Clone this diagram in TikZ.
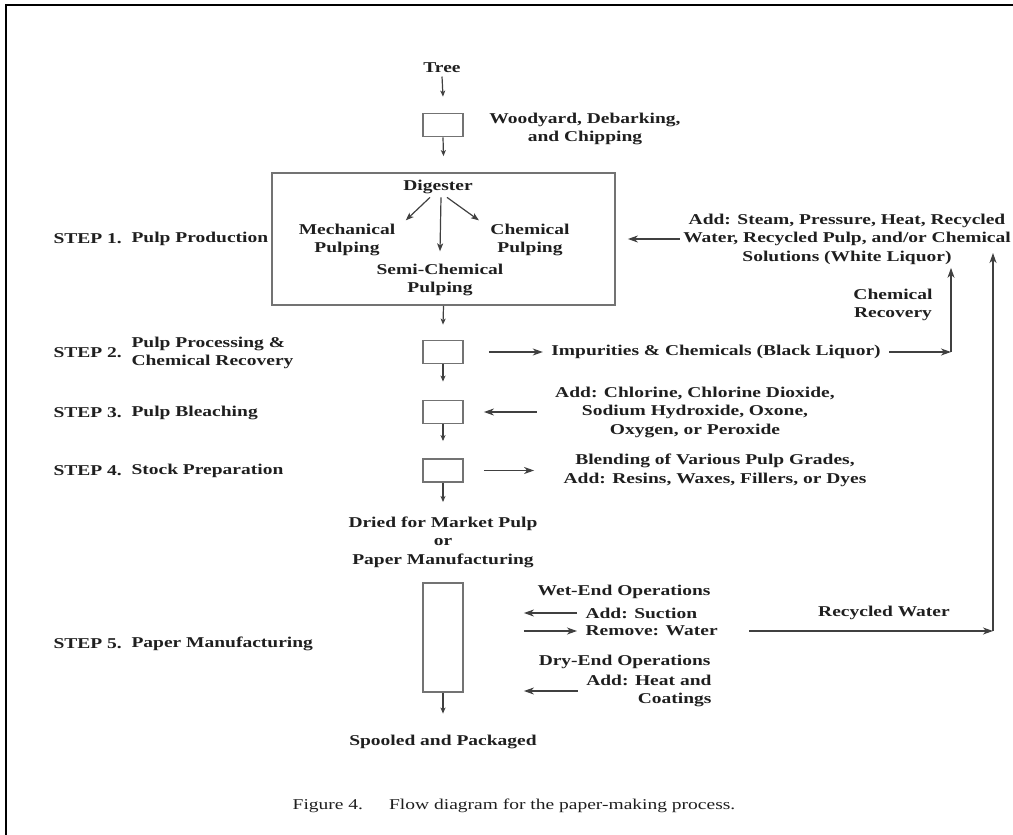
\documentclass[tikz,border=0pt]{standalone}
\usepackage{fontspec}
\setmainfont{Liberation Serif}[FakeStretch=1.3]
\usetikzlibrary{arrows.meta,positioning}

\tikzstyle{block} = [draw=black!55, line width=1.8pt, rectangle, minimum width=40pt, minimum height=23pt, inner sep=0pt]
\tikzstyle{label-text} = [font=\bfseries\fontsize{15}{18.5}\selectfont, text=black!88, align=center]
\tikzstyle{step-text} = [label-text, anchor=west, align=left]
\tikzstyle{flow} = [draw=black!75, line width=1.2pt, -{Stealth[length=10pt,width=7pt,inset=3pt]}]
\tikzstyle{drop} = [flow, -{Stealth[length=6pt,width=5pt,inset=1.5pt]}]
\tikzstyle{branch} = [flow, -{Stealth[length=8pt,width=6pt,inset=2pt]}]

\begin{document}
\begin{tikzpicture}[x=1pt,y=-1pt]

	\useasboundingbox (0,0) rectangle (1013,835);
	\draw [line width=2.8pt] (6,835) -- (6,5) -- (1013,5);

	\node [label-text] (Tree) at (442,68) {Tree};
	\node [block] (Woodyard) at (443,125) {};
	\node [label-text] (WoodyardText) at (585,129) {Woodyard, Debarking,\\and Chipping};

	\node [block, minimum width=343pt, minimum height=132pt] (Pulping) at (443.5,239) {};
	\node [label-text] (Digester) at (438,187) {Digester};
	\node [label-text] (Mechanical) at (347,240) {Mechanical\\Pulping};
	\node [label-text] (Chemical) at (530,240) {Chemical\\Pulping};
	\node [label-text] (SemiChemical) at (440,280) {Semi-Chemical\\Pulping};
	\node [label-text] (WhiteLiquor) at (847,239) {Add: Steam, Pressure, Heat, Recycled\\Water, Recycled Pulp, and/or Chemical\\Solutions (White Liquor)};
	\node [label-text] (ChemRecovery) at (893,305) {Chemical\\Recovery};

	\node [block] (Processing) at (443,352) {};
	\node [label-text] (BlackLiquor) at (716,352) {Impurities \& Chemicals (Black Liquor)};
	\coordinate (Recovery) at (951,352);

	\node [block] (Bleaching) at (443,412) {};
	\node [label-text] (BleachAgents) at (695,412) {Add: Chlorine, Chlorine Dioxide,\\Sodium Hydroxide, Oxone,\\Oxygen, or Peroxide};

	\node [block] (Stock) at (443,470.5) {};
	\node [label-text] (Blending) at (715,470.5) {Blending of Various Pulp Grades,\\Add: Resins, Waxes, Fillers, or Dyes};

	\node [label-text] (Dried) at (443,542) {Dried for Market Pulp\\or\\Paper Manufacturing};

	\node [block, minimum height=109pt] (Machine) at (443,637.5) {};
	\node [label-text, anchor=east] (WetEnd) at (714,592) {Wet-End Operations};
	\node [label-text, anchor=west] (Suction) at (582,613) {Add: Suction};
	\node [label-text, anchor=west] (Water) at (582,631) {Remove: Water};
	\node [label-text] (RecycledWater) at (884,613) {Recycled Water};
	\coordinate (Return) at (993,631);
	\coordinate (ReturnTop) at (993,253);
	\node [label-text, anchor=east] (DryEnd) at (714,662) {Dry-End Operations};
	\node [label-text, anchor=east, align=right] (Heat) at (715,691) {Add: Heat and\\Coatings};

	\node [label-text] (Spooled) at (443,742) {Spooled and Packaged};

	\node [step-text] (Step1) at (50,239) {STEP 1.};
	\node [step-text] (Step1Text) at (128,239) {Pulp Production};
	\node [step-text] (Step2) at (50,353) {STEP 2.};
	\node [step-text] (Step2Text) at (128,353) {Pulp Processing \&\\Chemical Recovery};
	\node [step-text] (Step3) at (50,413) {STEP 3.};
	\node [step-text] (Step3Text) at (128,413) {Pulp Bleaching};
	\node [step-text] (Step4) at (50,471) {STEP 4.};
	\node [step-text] (Step4Text) at (128,471) {Stock Preparation};
	\node [step-text] (Step5) at (50,644) {STEP 5.};
	\node [step-text] (Step5Text) at (128,644) {Paper Manufacturing};

	\node [font=\fontsize{15}{18}\selectfont, text=black!88] (Caption) at (514,806) {Figure 4.\hspace{26pt}Flow diagram for the paper-making process.};

	\draw [drop] (Tree.south) -- ([yshift=16pt]Woodyard.north);
	\draw [drop] (Woodyard.south) -- ([yshift=16pt]Pulping.north);
	\draw [branch] ([xshift=-8pt]Digester.south) -- ([xshift=7pt]Mechanical.north east);
	\draw [branch] ([xshift=3pt]Digester.south) -- ([yshift=9pt]SemiChemical.north);
	\draw [branch] ([xshift=9pt]Digester.south) -- ([xshift=-8pt]Chemical.north west);
	\draw [flow] (WhiteLiquor.west) -- ([xshift=12pt]Pulping.east);

	\draw [drop] (Pulping.south) -- ([yshift=15pt]Processing.north);
	\draw [flow] ([xshift=25pt]Processing.east) -- ([xshift=-5pt]BlackLiquor.west);
	\draw [flow] ([xshift=5pt]BlackLiquor.east) -- (Recovery);
	\draw [flow] (Recovery) -- (Recovery |- WhiteLiquor.south);

	\draw [drop] (Processing.south) -- ([yshift=18pt]Bleaching.north);
	\draw [flow] ([xshift=-15pt]BleachAgents.west) -- ([xshift=20pt]Bleaching.east);

	\draw [drop] (Bleaching.south) -- ([yshift=17pt]Stock.north);
	\draw [flow] ([xshift=20pt]Stock.east) -- ([xshift=-26pt]Blending.west);

	\draw [drop] (Stock.south) -- ([yshift=11pt]Dried.north);

	\draw [flow] ([xshift=-5pt]Suction.west) -- ([xshift=60pt]Machine.east |- Suction.west);
	\draw [flow] ([xshift=60pt]Machine.east |- Water.west) -- ([xshift=-5pt]Water.west);
	\draw [flow] ([xshift=28pt]Water.east) -- (Return);
	\draw [flow] (Return) -- (ReturnTop);
	\draw [flow] ([xshift=-5pt]Heat.west) -- ([xshift=60pt]Machine.east |- Heat.west);
	\draw [drop] (Machine.south) -- ([yshift=18pt]Spooled.north);

\end{tikzpicture}
\end{document}
